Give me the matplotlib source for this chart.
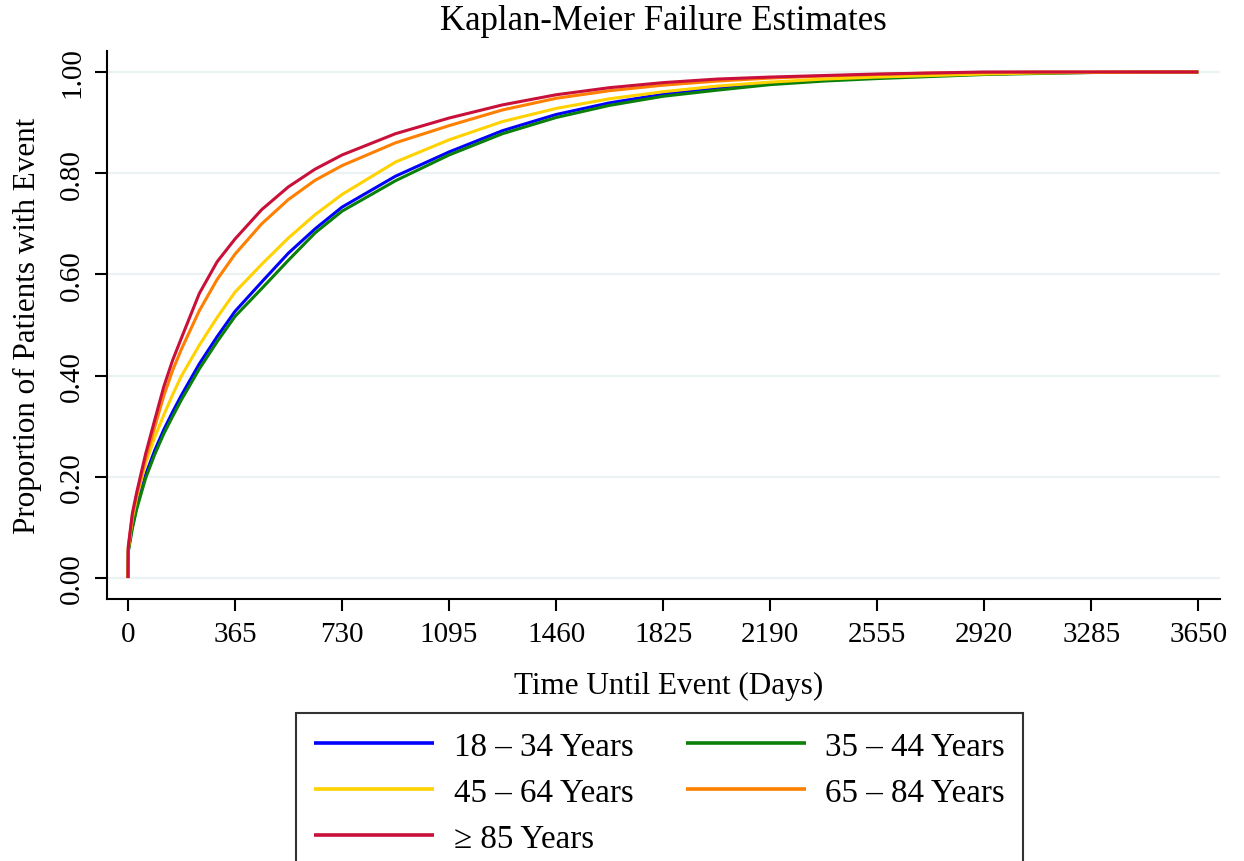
import matplotlib
matplotlib.use("Agg")
import matplotlib.pyplot as plt

# ---- data ----
days = [0, 1, 15, 30, 60, 91, 122, 152, 182, 243, 304, 365, 456, 547, 638, 730,
        912, 1095, 1277, 1460, 1642, 1825, 2008, 2190, 2372, 2555, 2737, 2920,
        3100, 3285, 3650]

fail_18_34 = [0, 0.055, 0.102, 0.142, 0.204, 0.252, 0.293, 0.328, 0.361, 0.423,
              0.477, 0.527, 0.585, 0.642, 0.690, 0.733, 0.794, 0.842, 0.884, 0.916,
              0.939, 0.956, 0.967, 0.977, 0.984, 0.989, 0.993, 0.996, 0.998, 0.999, 1.0]
fail_35_44 = [0, 0.052, 0.098, 0.137, 0.197, 0.244, 0.285, 0.319, 0.352, 0.413,
              0.467, 0.517, 0.572, 0.628, 0.682, 0.725, 0.785, 0.836, 0.878, 0.910,
              0.934, 0.952, 0.964, 0.975, 0.982, 0.987, 0.991, 0.995, 0.997, 0.999, 1.0]
fail_45_64 = [0, 0.058, 0.118, 0.160, 0.226, 0.278, 0.322, 0.362, 0.399, 0.460,
              0.515, 0.565, 0.620, 0.672, 0.718, 0.758, 0.822, 0.866, 0.902, 0.928,
              0.947, 0.961, 0.972, 0.980, 0.986, 0.990, 0.993, 0.996, 0.998, 0.999, 1.0]
fail_65_84 = [0, 0.060, 0.124, 0.165, 0.236, 0.298, 0.360, 0.410, 0.452, 0.528,
              0.590, 0.640, 0.700, 0.748, 0.786, 0.815, 0.860, 0.894, 0.925, 0.948,
              0.963, 0.974, 0.982, 0.988, 0.992, 0.995, 0.998, 0.999, 1.0, 1.0, 1.0]
fail_85_up = [0, 0.062, 0.128, 0.170, 0.245, 0.312, 0.378, 0.430, 0.474, 0.562,
              0.625, 0.670, 0.728, 0.773, 0.808, 0.836, 0.878, 0.909, 0.935, 0.955,
              0.969, 0.979, 0.986, 0.990, 0.993, 0.996, 0.998, 1.0, 1.0, 1.0, 1.0]

labels = ["18 \u2013 34 Years", "35 \u2013 44 Years", "45 \u2013 64 Years",
          "65 \u2013 84 Years", "\u2265 85 Years"]
series = [fail_18_34, fail_35_44, fail_45_64, fail_65_84, fail_85_up]
colors = ["#0000FF", "#0A800A", "#FFD200", "#FF7F00", "#C8103A"]

x_ticks = [0, 365, 730, 1095, 1460, 1825, 2190, 2555, 2920, 3285, 3650]
y_ticks = [0.0, 0.2, 0.4, 0.6, 0.8, 1.0]

# ---- figure ----
plt.rcParams['font.family'] = ['Liberation Serif', 'DejaVu Serif']
fig = plt.figure(figsize=(12.44, 8.62), dpi=100)
ax = fig.add_axes([0.0860, 0.3039, 0.8947, 0.6352])

for yv in y_ticks:
    ax.axhline(yv, color="#EAF2F3", lw=1.6, zorder=0)

handles = []
for vals, lab, col in zip(series, labels, colors):
    h, = ax.plot(days, vals, color=col, lw=2.2, label=lab,
                 solid_joinstyle='round', solid_capstyle='butt')
    handles.append(h)

ax.set_xlim(-71.6, 3724)
ax.set_ylim(-0.0415, 1.0405)
ax.set_xticks(x_ticks)
ax.set_xticklabels([str(t) for t in x_ticks])
ax.set_yticks(y_ticks)
ax.set_yticklabels([f"{t:.2f}" for t in y_ticks], rotation=90, va='center')

for s in ['top', 'right']:
    ax.spines[s].set_visible(False)
for s in ['left', 'bottom']:
    ax.spines[s].set_linewidth(1.5)
    ax.spines[s].set_color('black')

ax.tick_params(axis='both', direction='out', length=8.6, width=1.5,
               labelsize=21, colors='black', pad=7)

ax.set_xlabel("Time Until Event (Days)", fontsize=22.4)
ax.set_ylabel("Proportion of Patients with Event", fontsize=22.4)
ax.xaxis.set_label_coords(0.505, -0.158)
ax.yaxis.set_label_coords(-0.0715, 0.5)
ax.yaxis.label.set_va('center')
ax.xaxis.label.set_va('center')

fig.text(0.5335, 0.9745, "Kaplan-Meier Failure Estimates", fontsize=25,
         ha='center', va='center')

# legend in row-major order: (blue, green), (yellow, orange), (red)
order = [0, 2, 4, 1, 3]
leg = fig.legend([handles[i] for i in order], [labels[i] for i in order],
                 ncol=2, loc='upper center', bbox_to_anchor=(0.5301, 0.1717),
                 bbox_transform=fig.transFigure, fontsize=23.8, frameon=True,
                 fancybox=False, edgecolor='black', handlelength=3.63,
                 handletextpad=0.6, columnspacing=1.58, labelspacing=0.47,
                 borderpad=0.55, borderaxespad=0)
leg.get_frame().set_linewidth(1.5)
for ln in leg.get_lines():
    ln.set_linewidth(2.6)

fig.savefig("out.png", dpi=100)
